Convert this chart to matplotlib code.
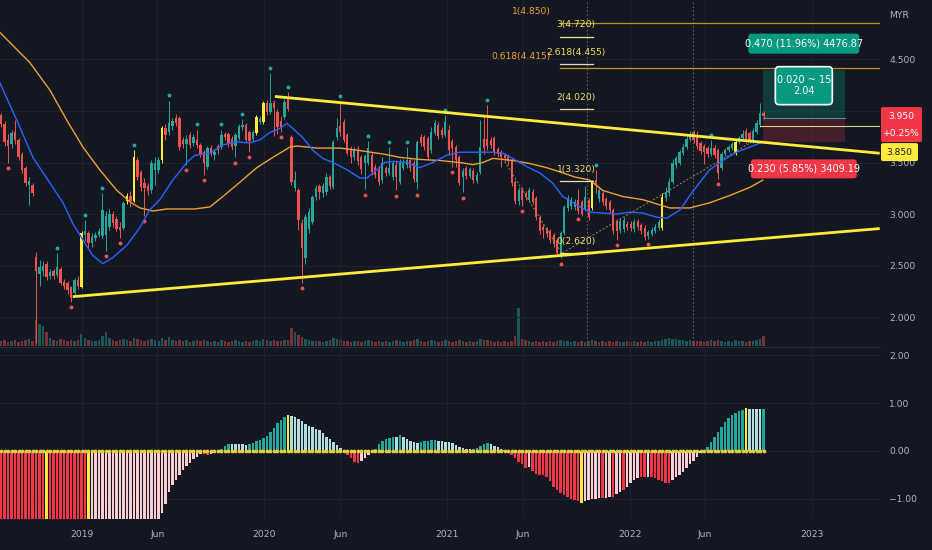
import datetime as dt
import numpy as np
import matplotlib
matplotlib.use("Agg")
import matplotlib.pyplot as plt
import matplotlib.dates as mdates
from matplotlib.patches import FancyBboxPatch, Rectangle
from matplotlib import font_manager

# ------------------------------------------------------------------ DATA
start_date = dt.date(2018, 7, 23)          # first weekly candle

opens = [3.96,3.87,3.72,3.68,3.80,3.72,3.58,3.45,3.28,3.28,
         2.58,2.42,2.45,2.52,2.40,2.45,2.41,2.47,2.34,2.33,
         2.29,2.24,2.36,2.29,2.80,2.82,2.72,2.77,2.80,2.79,
         2.80,2.88,3.00,2.95,2.88,2.87,3.13,3.18,3.13,3.52,
         3.41,3.30,3.27,3.23,3.43,3.43,3.52,3.83,3.80,3.85,
         3.93,3.93,3.72,3.68,3.77,3.69,3.72,3.67,3.60,3.46,
         3.64,3.57,3.66,3.65,3.78,3.78,3.73,3.66,3.74,3.84,
         3.86,3.80,3.73,3.79,3.89,3.89,4.08,3.99,4.08,3.99,
         3.90,3.94,4.12,3.75,3.25,3.23,2.91,2.57,2.86,2.92,
         3.17,3.27,3.20,3.21,3.36,3.26,3.75,3.85,3.89,3.77,
         3.63,3.55,3.63,3.55,3.50,3.50,3.57,3.46,3.43,3.33,
         3.45,3.40,3.36,3.48,3.31,3.45,3.48,3.52,3.50,3.31,
         3.75,3.75,3.74,3.62,3.79,3.86,3.82,3.77,3.82,3.71,
         3.65,3.55,3.36,3.45,3.37,3.42,3.32,3.41,3.73,3.73,
         3.72,3.74,3.63,3.60,3.57,3.56,3.52,3.31,3.13,3.23,
         3.20,3.14,3.21,3.16,2.97,2.88,2.86,2.84,2.80,2.75,
         2.62,2.82,3.06,3.08,3.07,3.14,3.12,3.05,3.14,3.06,
         3.33,3.15,3.20,3.15,3.12,3.04,2.93,2.85,2.86,2.90,
         2.90,2.86,2.93,2.89,2.87,2.79,2.81,2.84,2.87,2.87,
         3.16,3.20,3.31,3.48,3.50,3.59,3.65,3.73,3.80,3.77,
         3.69,3.66,3.64,3.58,3.64,3.62,3.45,3.58,3.62,3.64,
         3.59,3.70,3.74,3.81,3.79,3.71,3.80,3.86,3.98]
highs = [3.98,3.90,3.78,3.82,3.91,3.74,3.60,3.47,3.36,3.30,
         2.63,2.56,2.55,2.55,2.47,2.47,2.62,2.49,2.37,2.35,
         2.30,2.38,2.40,2.84,2.94,2.84,2.82,2.83,2.87,3.20,
         3.03,3.05,3.03,2.98,2.92,3.13,3.20,3.22,3.62,3.55,
         3.43,3.35,3.30,3.52,3.55,3.55,3.85,3.87,4.10,3.93,
         3.97,3.95,3.75,3.77,3.80,3.78,3.82,3.69,3.62,3.66,
         3.67,3.63,3.68,3.82,3.80,3.80,3.76,3.79,3.87,3.92,
         3.88,3.82,3.82,3.96,3.95,4.10,4.11,4.37,4.11,4.02,
         3.95,4.12,4.18,3.77,3.42,3.25,2.95,3.00,3.06,3.19,
         3.28,3.29,3.30,3.40,3.38,3.72,3.93,4.09,3.92,3.79,
         3.66,3.65,3.66,3.57,3.58,3.71,3.60,3.49,3.46,3.55,
         3.47,3.65,3.52,3.52,3.53,3.53,3.65,3.54,3.52,3.72,
         3.78,3.77,3.76,3.84,3.91,3.89,3.84,3.96,3.86,3.73,
         3.67,3.57,3.45,3.47,3.46,3.45,3.41,3.91,3.95,4.06,
         3.75,3.76,3.65,3.62,3.59,3.58,3.54,3.33,3.26,3.26,
         3.22,3.26,3.24,3.18,2.99,2.90,2.88,2.86,2.82,2.77,
         2.84,3.09,3.19,3.17,3.15,3.24,3.14,3.27,3.16,3.33,
         3.43,3.26,3.22,3.17,3.14,3.06,2.95,2.96,2.97,2.93,
         2.93,2.95,2.95,2.91,2.89,2.85,2.88,2.90,2.95,3.20,
         3.26,3.35,3.53,3.56,3.62,3.68,3.76,3.81,3.82,3.81,
         3.71,3.68,3.66,3.72,3.67,3.64,3.60,3.64,3.67,3.70,
         3.72,3.76,3.82,3.83,3.81,3.83,3.91,4.08,4.00]
lows = [3.84,3.66,3.50,3.64,3.68,3.52,3.40,3.27,3.09,3.18,
        1.75,2.30,2.40,2.36,2.37,2.37,2.39,2.31,2.27,2.23,
        2.15,2.22,2.27,2.28,2.74,2.66,2.68,2.74,2.78,2.77,
        2.64,2.85,2.88,2.84,2.77,2.85,3.10,3.07,3.12,3.33,
        3.22,2.98,3.19,3.20,3.28,3.40,3.50,3.72,3.77,3.82,
        3.85,3.62,3.64,3.48,3.64,3.66,3.64,3.55,3.38,3.44,
        3.56,3.52,3.58,3.63,3.72,3.65,3.62,3.55,3.72,3.82,
        3.70,3.60,3.71,3.77,3.87,3.87,3.96,3.97,3.76,3.78,
        3.80,3.92,4.00,3.28,3.22,2.85,2.33,2.52,2.82,2.90,
        3.14,3.15,3.17,3.19,3.24,3.24,3.72,3.76,3.70,3.57,
        3.50,3.52,3.48,3.39,3.24,3.48,3.38,3.35,3.28,3.30,
        3.37,3.38,3.33,3.23,3.29,3.43,3.45,3.42,3.31,3.24,
        3.66,3.62,3.52,3.59,3.77,3.73,3.74,3.75,3.58,3.46,
        3.46,3.28,3.21,3.34,3.35,3.30,3.30,3.39,3.58,3.62,
        3.64,3.57,3.55,3.46,3.51,3.48,3.27,3.10,3.09,3.08,
        3.14,3.12,3.10,2.94,2.81,2.77,2.78,2.72,2.68,2.59,
        2.57,2.80,3.03,3.05,3.04,3.00,2.98,3.03,2.94,3.04,
        3.20,3.12,3.09,3.05,3.01,2.81,2.75,2.82,2.83,2.85,
        2.84,2.83,2.85,2.81,2.75,2.76,2.79,2.82,2.85,2.85,
        3.13,3.18,3.29,3.45,3.48,3.57,3.63,3.71,3.69,3.63,
        3.58,3.49,3.55,3.56,3.54,3.34,3.43,3.56,3.60,3.62,
        3.57,3.68,3.72,3.69,3.69,3.69,3.78,3.84,3.92]
closes = [3.87,3.70,3.66,3.79,3.72,3.55,3.43,3.30,3.32,3.20,
          2.45,2.49,2.50,2.39,2.44,2.40,2.49,2.33,2.30,2.26,
          2.19,2.36,2.30,2.82,2.84,2.72,2.78,2.80,2.84,3.04,
          2.98,3.00,2.91,2.86,2.85,3.11,3.18,3.13,3.55,3.36,
          3.26,3.25,3.22,3.50,3.50,3.52,3.83,3.77,3.88,3.90,
          3.88,3.65,3.68,3.73,3.67,3.75,3.67,3.57,3.50,3.64,
          3.59,3.60,3.62,3.77,3.75,3.68,3.65,3.77,3.85,3.86,
          3.72,3.71,3.80,3.94,3.92,4.08,3.99,4.08,4.03,3.84,
          3.84,4.09,4.02,3.31,3.33,2.94,2.67,2.97,3.02,3.17,
          3.25,3.21,3.27,3.36,3.27,3.70,3.83,3.80,3.72,3.59,
          3.55,3.63,3.51,3.44,3.56,3.64,3.41,3.38,3.31,3.50,
          3.40,3.45,3.50,3.36,3.50,3.50,3.52,3.45,3.34,3.70,
          3.69,3.65,3.55,3.80,3.88,3.76,3.77,3.89,3.62,3.64,
          3.52,3.30,3.42,3.37,3.44,3.33,3.38,3.65,3.64,3.66,
          3.67,3.60,3.58,3.55,3.54,3.51,3.30,3.13,3.23,3.14,
          3.17,3.23,3.12,2.97,2.84,2.85,2.81,2.75,2.71,2.62,
          2.82,3.07,3.16,3.14,3.12,3.03,3.00,3.17,2.97,3.31,
          3.29,3.23,3.12,3.08,3.04,2.84,2.84,2.93,2.94,2.88,
          2.87,2.92,2.88,2.84,2.78,2.83,2.85,2.88,2.92,3.17,
          3.21,3.31,3.50,3.54,3.60,3.65,3.73,3.77,3.72,3.66,
          3.61,3.60,3.58,3.64,3.57,3.40,3.58,3.62,3.65,3.68,
          3.70,3.74,3.78,3.71,3.71,3.81,3.88,3.98,3.95]
volumes = [5,6,4,5,6,4,5,6,7,5,
           26,22,20,14,8,6,5,7,6,5,
           6,5,6,12,8,6,5,5,6,10,
           14,8,6,5,6,7,6,5,8,7,
           6,5,6,7,6,5,8,6,9,6,
           5,6,5,6,4,5,6,5,6,5,
           4,5,4,6,5,4,5,6,5,4,
           5,4,5,6,5,7,6,5,6,5,
           5,6,6,18,14,11,9,7,6,5,
           5,5,4,5,6,8,7,6,5,5,
           4,5,5,4,5,6,5,4,5,4,
           5,4,5,6,5,4,5,5,6,7,
           5,4,5,6,5,4,5,6,5,4,
           5,6,5,4,5,4,5,7,6,6,
           5,4,5,4,5,4,5,10,38,7,
           6,5,4,5,4,5,4,5,4,5,
           6,5,5,4,5,4,5,4,5,6,
           5,4,5,4,5,4,5,4,4,5,
           4,5,4,5,4,5,4,5,5,6,
           7,8,7,7,6,6,5,6,5,5,
           5,4,5,6,5,6,5,4,5,4,
           6,5,5,4,5,5,6,7,10]
yellow_candles = [23, 36, 38, 46, 73, 75, 169, 189, 210]
pivot_high_idx = [16, 24, 29, 38, 48, 56, 63, 69, 77, 82, 97, 105, 111, 116, 127, 139, 170, 203]
pivot_low_idx = [2, 20, 30, 34, 41, 53, 58, 67, 71, 80, 86, 104, 113, 119, 129, 132, 149, 160, 165, 176, 185, 205]

# moving averages (candle index, price)
ma_fast_idx = [-0.3,4.5,9.1,14.0,17.7,20.5,23.4,26.2,29.1,32.0,36.0,39.7,42.5,45.4,49.1,53.1,55.4,59.7,
               63.4,67.4,71.1,74.0,76.8,79.7,81.7,83.4,86.3,89.1,92.0,94.9,98.9,102.6,104.6,107.4,109.7,
               112.0,116.0,119.7,123.4,127.4,131.2,134.9,137.7,140.6,143.5,146.3,150.3,154.0,157.7,160.6,
               163.2,165.5,168.3,172.0,176.0,179.8,183.5,187.5,190.3,194.1,196.9,199.8,202.6,206.3,210.3,
               214.1,217.8]
ma_fast_val = [4.27,3.91,3.55,3.30,3.11,2.91,2.75,2.60,2.52,2.58,2.70,2.87,3.04,3.14,3.33,3.50,3.57,3.59,
               3.67,3.70,3.69,3.72,3.79,3.83,3.88,3.83,3.74,3.62,3.54,3.50,3.43,3.35,3.35,3.43,3.50,
               3.51,3.50,3.45,3.50,3.57,3.60,3.60,3.60,3.60,3.59,3.54,3.46,3.40,3.30,3.17,
               3.12,3.07,3.02,3.01,3.00,3.02,3.01,2.97,2.96,3.04,3.18,3.31,3.43,3.52,3.60,
               3.65,3.70]
ma_slow_idx = [-0.3,8.2,14.0,18.8,23.4,28.2,33.1,36.8,39.7,43.4,47.4,55.4,59.7,63.4,68.3,73.1,77.7,82.6,
               84.6,90.3,96.9,101.7,109.7,114.0,119.7,125.4,131.2,134.9,137.7,140.6,146.3,151.2,156.0,
               160.6,164.0,168.3,172.0,177.8,183.5,188.3,191.2,196.9,202.6,208.3,214.1,217.8]
ma_slow_val = [4.76,4.47,4.20,3.91,3.65,3.43,3.23,3.12,3.06,3.03,3.05,3.05,3.07,3.17,3.31,3.45,3.55,3.65,
               3.66,3.64,3.64,3.62,3.58,3.55,3.53,3.52,3.50,3.48,3.50,3.54,3.52,3.49,3.45,
               3.40,3.36,3.33,3.23,3.17,3.14,3.09,3.06,3.06,3.11,3.18,3.26,3.33]

# trend lines (candle index, price)
support_idx, support_price = [20.5, 251.2], [2.20, 2.86]
resist_idx, resist_price = [78.3, 251.2], [4.14, 3.59]
hline_idx, hline_price = 217.0, 3.85

# fib tools
fib_ext_levels = [0, 1, 2, 2.618, 3]
fib_ext_prices = [2.62, 3.32, 4.02, 4.455, 4.72]
fib_ret_levels = [1, 0.618]
fib_ret_prices = [4.85, 4.415]
fib_range_idx = [159.7, 169.2]
fib_leg_idx = [144.0, 160.3, 214.6]
fib_leg_price = [3.51, 2.62, 3.70]
dotted_vline_idx = [167.5, 197.8]

# long position tool
pos_idx = [217.8, 241.2]
pos_entry, pos_target, pos_stop = 3.93, 4.40, 3.70
pos_target_text = "0.470 (11.96%) 4476.87"
pos_mid_text = "0.020 ~ 15\n2.04"
pos_stop_text = "0.230 (5.85%) 3409.19"
last_change_text = "+0.25%"

# momentum histogram (lower pane)
mom_values = [-1.5,-1.5,-1.5,-1.5,-1.5,-1.5,-1.5,-1.5,-1.5,-1.5,
              -1.5,-1.5,-1.5,-1.5,-1.5,-1.5,-1.5,-1.5,-1.5,-1.5,
              -1.5,-1.5,-1.5,-1.5,-1.5,-1.5,-1.5,-1.5,-1.5,-1.5,
              -1.5,-1.5,-1.5,-1.5,-1.5,-1.5,-1.5,-1.5,-1.5,-1.5,
              -1.5,-1.5,-1.5,-1.5,-1.5,-1.5,-1.30,-1.10,-0.85,-0.70,
              -0.60,-0.50,-0.40,-0.31,-0.24,-0.17,-0.12,-0.07,-0.06,-0.08,
              -0.06,-0.04,-0.02,0.05,0.10,0.14,0.15,0.15,0.15,0.14,
              0.13,0.14,0.17,0.20,0.23,0.27,0.32,0.40,0.48,0.58,
              0.64,0.70,0.75,0.73,0.71,0.67,0.62,0.56,0.52,0.49,
              0.46,0.43,0.37,0.30,0.24,0.18,0.12,0.06,-0.03,-0.08,
              -0.15,-0.22,-0.26,-0.20,-0.14,-0.09,-0.03,0.05,0.14,0.20,
              0.25,0.28,0.30,0.29,0.33,0.30,0.25,0.20,0.18,0.17,
              0.18,0.20,0.21,0.22,0.23,0.21,0.20,0.19,0.18,0.16,
              0.13,0.09,0.06,0.05,0.04,0.05,0.06,0.10,0.14,0.16,
              0.14,0.11,0.08,0.05,0.02,-0.03,-0.08,-0.15,-0.22,-0.28,
              -0.35,-0.33,-0.42,-0.47,-0.49,-0.50,-0.55,-0.63,-0.74,-0.82,
              -0.88,-0.92,-0.95,-0.99,-1.02,-1.05,-1.09,-1.04,-1.02,-1.00,
              -0.99,-0.98,-0.98,-0.97,-0.96,-0.95,-0.90,-0.85,-0.82,-0.74,
              -0.67,-0.60,-0.56,-0.54,-0.54,-0.54,-0.55,-0.57,-0.60,-0.63,
              -0.66,-0.66,-0.60,-0.55,-0.50,-0.43,-0.35,-0.27,-0.20,-0.12,
              -0.05,0.03,0.08,0.18,0.30,0.40,0.50,0.60,0.68,0.75,
              0.80,0.84,0.86,0.89,0.88,0.87,0.87,0.87,0.88]
# bar colour class per bar, as runs (class, count) read left to right
mom_state_runs = [("R", 13), ("Y", 1), ("R", 11), ("Y", 1), ("p", 32), ("R", 2), ("p", 3),
                  ("G", 3), ("g", 5), ("G", 11), ("Y", 1), ("g", 15), ("R", 5), ("p", 4),
                  ("G", 6), ("g", 1), ("G", 1), ("g", 5), ("G", 5), ("g", 10), ("G", 5), ("g", 5),
                  ("R", 6), ("p", 1), ("R", 14), ("Y", 1), ("p", 5), ("R", 1), ("p", 2), ("R", 1),
                  ("p", 2), ("R", 1), ("p", 4), ("R", 2), ("p", 1), ("R", 6), ("p", 9),
                  ("G", 12), ("Y", 1), ("g", 4), ("G", 1)]

# ------------------------------------------------------------------ STYLE
BG = "#131722"
GRID = "#1e222d"
TXT = "#b2b5be"
UP, DOWN, YEL = "#26a69a", "#ef5350", "#ffeb3b"
names = {f.name for f in font_manager.fontManager.ttflist}
if "Liberation Sans Narrow" in names:
    FONT, FS = "Liberation Sans Narrow", 8.4
else:
    FONT, FS = "DejaVu Sans", 6.6
plt.rcParams["font.family"] = [FONT, "DejaVu Sans"]

W, H = 932, 550
fig = plt.figure(figsize=(W / 100, H / 100), dpi=100, facecolor=BG)


def rect(x0, y0, x1, y1):
    return [x0 / W, 1 - y1 / H, (x1 - x0) / W, (y1 - y0) / H]


n = len(closes)
t0 = mdates.date2num(start_date)


def ix(i):
    return t0 + 7 * np.asarray(i, dtype=float)


xd = ix(np.arange(n))
jan19 = mdates.date2num(dt.date(2019, 1, 1))
PX_PER_DAY = 0.4997
xlim = (jan19 - 82 / PX_PER_DAY, jan19 + (880 - 82) / PX_PER_DAY)

axv = fig.add_axes(rect(0, 0, 880, 346))
ax = fig.add_axes(rect(0, 0, 880, 346))
axm = fig.add_axes(rect(0, 347, 880, 519))
for a in (axv, ax, axm):
    a.set_facecolor("none")
    a.set_xlim(*xlim)
    for s in a.spines.values():
        s.set_visible(False)
axv.set_zorder(0)
ax.set_zorder(1)
axm.set_zorder(1)

tick_dates = [dt.date(2019, 1, 1), dt.date(2019, 6, 1), dt.date(2020, 1, 1), dt.date(2020, 6, 1),
              dt.date(2021, 1, 1), dt.date(2021, 6, 1), dt.date(2022, 1, 1), dt.date(2022, 6, 1),
              dt.date(2023, 1, 1)]
tick_labels = ["2019", "Jun", "2020", "Jun", "2021", "Jun", "2022", "Jun", "2023"]
tick_nums = mdates.date2num(tick_dates)

# ---------------- volume (background)
vol_cols = [UP if c >= o else DOWN for o, c in zip(opens, closes)]
axv.bar(xd, volumes, width=5.0, color=vol_cols, alpha=0.45, linewidth=0)
axv.set_ylim(0, 346)
axv.set_xticks([])
axv.set_yticks([])

# ---------------- price pane
ax.set_ylim(1.722, 5.075)
price_ticks = [2.0, 2.5, 3.0, 3.5, 4.0, 4.5]
ax.set_yticks(price_ticks)
# the 4.000 tick label sits under the last-price tag, so it is left blank
ax.set_yticklabels(["" if p == 4.0 else f"{p:.3f}" for p in price_ticks])
ax.yaxis.tick_right()
ax.tick_params(axis="y", length=0, pad=6.5, colors=TXT, labelsize=FS)
ax.set_xticks(tick_nums)
ax.tick_params(axis="x", length=0, labelbottom=False)
ax.grid(True, color=GRID, linewidth=0.8, zorder=0)
ax.set_axisbelow(True)

for v in dotted_vline_idx:
    ax.axvline(ix(v), color="#5d606b", linestyle=(0, (1.5, 2)), linewidth=0.8, zorder=1)

cols = []
for i, (o, c) in enumerate(zip(opens, closes)):
    cols.append(YEL if i in yellow_candles else (UP if c >= o else DOWN))
o_a, c_a = np.array(opens), np.array(closes)
ax.vlines(xd, lows, highs, colors=cols, linewidth=0.7, zorder=3)
ax.bar(xd, np.maximum(np.abs(c_a - o_a), 0.008), bottom=np.minimum(o_a, c_a), width=4.6,
       color=cols, linewidth=0, zorder=3)

ax.plot(ix(pivot_high_idx), np.array(highs)[pivot_high_idx] + 0.05, "o", ms=1.8, color=UP,
        linestyle="none", zorder=3)
ax.plot(ix(pivot_low_idx), np.array(lows)[pivot_low_idx] - 0.05, "o", ms=1.8, color=DOWN,
        linestyle="none", zorder=3)

ax.plot(ix(ma_slow_idx), ma_slow_val, color="#f0a030", linewidth=1.0, zorder=4)
ax.plot(ix(ma_fast_idx), ma_fast_val, color="#2962ff", linewidth=1.0, zorder=4)

# fib extension legs
ax.plot(ix(fib_leg_idx), fib_leg_price, color="#9c8a55", linewidth=0.7,
        linestyle=(0, (2, 2)), zorder=4)

# long position zones
ax.add_patch(Rectangle((ix(pos_idx[0]), pos_entry), ix(pos_idx[1]) - ix(pos_idx[0]),
                       pos_target - pos_entry, facecolor="#089981", alpha=0.28,
                       linewidth=0, zorder=2))
ax.add_patch(Rectangle((ix(pos_idx[0]), pos_stop), ix(pos_idx[1]) - ix(pos_idx[0]),
                       pos_entry - pos_stop, facecolor="#f23645", alpha=0.22,
                       linewidth=0, zorder=2))
ax.plot(ix(pos_idx), [pos_entry, pos_entry], color="#5b8f8a", linewidth=0.7, zorder=2)

# horizontal 3.85 ray
ax.plot([ix(hline_idx), xlim[1]], [hline_price, hline_price], color="#d9cf8c",
        linewidth=0.8, zorder=4)

# fib retracement lines (orange) and extension level segments (yellow)
for lvl, p in zip(fib_ret_levels, fib_ret_prices):
    ax.plot([ix(fib_range_idx[0]), xlim[1]], [p, p], color="#c8922a", linewidth=0.9, zorder=4)
    ax.annotate(f"{lvl:g}({p:.3f})", xy=(ix(fib_range_idx[0] - 0.2), p), xytext=(-6, 8.5),
                textcoords="offset points", ha="right", va="center", color="#f0a030",
                fontsize=FS, zorder=6)
for lvl, p in zip(fib_ext_levels, fib_ext_prices):
    ax.plot(ix(fib_range_idx), [p, p], color="#e6dfa8", linewidth=0.9, zorder=4)
    ax.annotate(f"{lvl:g}({p:.3f})", xy=(ix(np.mean(fib_range_idx)), p), xytext=(0, 8.5),
                textcoords="offset points", ha="center", va="center", color="#ece35a",
                fontsize=FS, zorder=6)

# yellow trend lines
ax.plot(ix(support_idx), support_price, color=YEL, linewidth=2.0, zorder=5,
        solid_capstyle="butt")
ax.plot(ix(resist_idx), resist_price, color=YEL, linewidth=2.0, zorder=5,
        solid_capstyle="butt")

# ---------------- momentum pane
state_col = {"R": "#f23645", "p": "#ffcdd2", "G": "#26a69a", "g": "#b2dfdb", "Y": YEL}
mom_state = []
for cls, cnt in mom_state_runs:
    mom_state.extend([cls] * cnt)
mcols = [state_col[s] for s in mom_state[:n]]
axm.bar(xd, mom_values, width=5.0, color=mcols, linewidth=0, zorder=2)
axm.plot(xd, np.zeros(n), "o", ms=1.7, color="#e3cf3c", linestyle="none", zorder=3)
axm.set_ylim(-1.417, 2.167)
mticks = [-1, 0, 1, 2]
axm.set_yticks(mticks)
axm.set_yticklabels(["\u22121.00", "0.00", "1.00", "2.00"])
axm.yaxis.tick_right()
axm.tick_params(axis="y", length=0, pad=6.5, colors=TXT, labelsize=FS)
axm.set_xticks(tick_nums)
axm.set_xticklabels(tick_labels)
axm.tick_params(axis="x", length=0, pad=8, colors=TXT, labelsize=FS)
axm.grid(True, color=GRID, linewidth=0.8, zorder=0)
axm.set_axisbelow(True)
axm.spines["top"].set_visible(True)
axm.spines["top"].set_color("#2a2e39")

# ---------------- overlay labels (pixel space)
ov = fig.add_axes([0, 0, 1, 1])
ov.set_xlim(0, W)
ov.set_ylim(H, 0)
ov.axis("off")
ov.set_zorder(10)


def to_px(axis, x, y):
    dx, dy = axis.transData.transform((x, y))
    return dx, H - dy


def box(cx, cy, w, h, fc, ec=None, lw=0.0, r=3):
    ov.add_patch(FancyBboxPatch((cx - w / 2, cy - h / 2), w, h,
                                boxstyle=f"round,pad=0,rounding_size={r}",
                                facecolor=fc, edgecolor=ec if ec else fc, linewidth=lw))


zx0, ztop = to_px(ax, ix(pos_idx[0]), pos_target)
zx1, zbot = to_px(ax, ix(pos_idx[1]), pos_stop)
zcx = (zx0 + zx1) / 2
box(zcx, ztop - 26, 111, 20, "#089981")
ov.text(zcx, ztop - 26, pos_target_text, color="white", ha="center", va="center", fontsize=FS + 0.4)
box(zcx, ztop + 16, 57, 38, "#089981", ec="white", lw=1.2, r=4)
ov.text(zcx, ztop + 16, pos_mid_text, color="white", ha="center", va="center",
        fontsize=FS + 0.4, linespacing=1.1)
box(zcx, zbot + 27, 106, 19, "#f23645")
ov.text(zcx, zbot + 27, pos_stop_text, color="white", ha="center", va="center", fontsize=FS + 0.4)

_, ylast = to_px(ax, xd[-1], closes[-1])
box(901.5, ylast + 8.5, 41, 35, "#f23645", r=2)
ov.text(901.5, ylast, f"{closes[-1]:.3f}", color="white", ha="center", va="center", fontsize=FS)
ov.text(901.5, ylast + 17, last_change_text, color="white", ha="center", va="center", fontsize=FS)
box(899.5, ylast + 36, 37, 18, YEL, r=2)
ov.text(899.5, ylast + 36, f"{hline_price:.3f}", color="#131722", ha="center", va="center",
        fontsize=FS)
ov.text(889, 15, "MYR", color=TXT, ha="left", va="center", fontsize=FS)

fig.savefig("out.png", dpi=100, facecolor=BG)
